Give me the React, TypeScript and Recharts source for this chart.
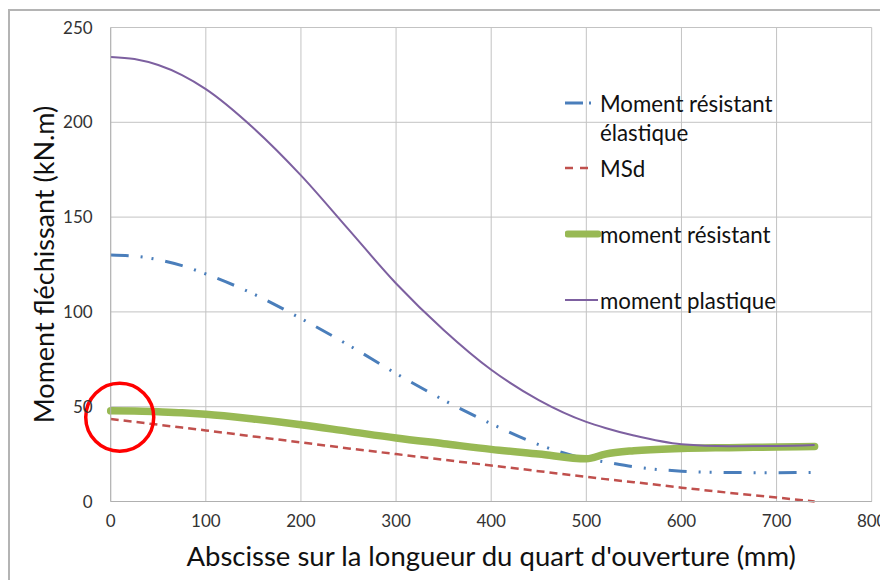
import React from 'react';
import { LineChart, Line, XAxis, YAxis, CartesianGrid, ReferenceDot, Legend, Label } from 'recharts';

const xs = [0, 25, 50, 75, 100, 150, 200, 250, 300, 350, 400, 450, 500, 520, 550, 600, 650, 700, 740];
const elastique = [130, 129.4, 127.5, 124.4, 120, 109.5, 96.5, 82.5, 67.5, 53.5, 41, 30, 22.5, 20.8, 18.3, 16, 15.3, 15.2, 15.3];
const msd = [43.5, 42, 40.5, 39, 37.5, 34.3, 31.2, 28, 25, 22, 19, 16, 13, 11.8, 10.2, 7.3, 4.6, 2.1, 0];
const resistant = [47.8, 47.7, 47.3, 46.8, 46, 43.5, 40.5, 37, 33.5, 30.5, 27.5, 25, 22.5, 25, 26.8, 28, 28.4, 28.7, 29];
const plastique = [234.5, 233.4, 230.2, 224.9, 217.5, 197, 172, 143.5, 115, 90.5, 69.5, 53.5, 42, 38.8, 34.8, 30.2, 29.2, 29.3, 29.8];

const xTicks = [0, 100, 200, 300, 400, 500, 600, 700, 800];
const yTicks = [0, 50, 100, 150, 200, 250];

const seriesNames = ['Moment résistant élastique', 'MSd', 'moment résistant', 'moment plastique'];
const xTitle = "Abscisse sur la longueur du quart d'ouverture (mm)";
const yTitle = 'Moment fléchissant (kN.m)';
const circleCenter = { x: 9.5, y: 44.4 };

const data = xs.map((x, i) => ({
  x,
  elastique: elastique[i],
  msd: msd[i],
  resistant: resistant[i],
  plastique: plastique[i],
}));

const FONT = 'Lato, "Open Sans", sans-serif';
const C_BLUE = '#4a7ebb';
const C_RED = '#c0504d';
const C_GREEN = '#98b954';
const C_PURPLE = '#7d60a0';
const BLUE_DASH = '18 12 2 9 2 12';
const RED_DASH = '8 5';

const legendStyles = [
  { color: C_BLUE, dash: '18 6 2 10', width: 3, top: 95, len: 26 },
  { color: C_RED, dash: '8 7', width: 2.5, top: 160, len: 24 },
  { color: C_GREEN, dash: undefined, width: 7, top: 226, len: 33 },
  { color: C_PURPLE, dash: undefined, width: 2, top: 292, len: 33 },
];
const legendLeft = 557;

const CustomLegend = () => (
  <div style={{ position: 'relative', width: 880, height: 572, pointerEvents: 'none' }}>
    {seriesNames.map((name, i) => {
      const s = legendStyles[i];
      const lines = i === 0 ? ['Moment résistant', 'élastique'] : [name];
      return (
        <div key={name} style={{ position: 'absolute', left: legendLeft, top: s.top - 14 }}>
          <svg width={40} height={28} style={{ position: 'absolute', left: 0, top: 0 }}>
            <line x1={i === 2 ? 3 : 0} x2={s.len} y1={14} y2={14} stroke={s.color} strokeWidth={s.width}
              strokeDasharray={s.dash} strokeLinecap={i === 2 ? 'round' : 'butt'} />
          </svg>
          <div style={{ position: 'absolute', left: 35, top: 0, fontFamily: FONT, fontSize: 22.3, color: '#111', lineHeight: '29px', whiteSpace: 'nowrap' }}>
            {lines.map((l) => <div key={l}>{l}</div>)}
          </div>
        </div>
      );
    })}
  </div>
);

export default function App() {
  return (
    <div style={{ position: 'relative', width: 880, height: 572 }}>
      <div style={{ position: 'absolute', left: 0, top: 1, width: 880, height: 571, borderTop: '2px solid #b4b4b4', borderLeft: '2px solid #b4b4b4', boxSizing: 'border-box' }} />
      <div style={{ position: 'absolute', left: 0, top: 0 }}>
        <LineChart width={880} height={572} data={data} margin={{ top: 19.5, right: 16.3, bottom: 0, left: 0 }}>
          <CartesianGrid stroke="#c3c3c3" strokeWidth={1} />
          <XAxis dataKey="x" type="number" domain={[0, 800]} ticks={xTicks} height={78.5}
            axisLine={{ stroke: '#b0b0b0' }} tickLine={false} tickSize={0} tickMargin={13}
            tick={{ fontFamily: FONT, fontSize: 17, fill: '#333' }} interval={0}>
            <Label content={(p: any) => {
              const vb = p.viewBox;
              return <text x={vb.x + vb.width / 2} y={555 - 8} textAnchor="middle" dominantBaseline="central"
                style={{ fontFamily: FONT, fontSize: 27.5, fill: '#111' }}>{xTitle}</text>;
            }} />
          </XAxis>
          <YAxis type="number" domain={[0, 250]} ticks={yTicks} width={102.7}
            axisLine={{ stroke: '#b0b0b0' }} tickLine={false} tickSize={0} tickMargin={18}
            tick={{ fontFamily: FONT, fontSize: 17, fill: '#333' }} interval={0}>
            <Label content={(p: any) => {
              const vb = p.viewBox;
              const cy = vb.y + vb.height / 2;
              return <text x={35} y={cy} transform={`rotate(-90 35 ${cy})`} textAnchor="middle" dominantBaseline="central"
                style={{ fontFamily: FONT, fontSize: 27, fill: '#111' }}>{yTitle}</text>;
            }} />
          </YAxis>
          <Legend layout="horizontal" verticalAlign="middle" align="center" content={<CustomLegend />}
            wrapperStyle={{ position: 'absolute', left: 0, top: 0, width: 880, height: 572, pointerEvents: 'none' }} />
          <Line dataKey="elastique" name={seriesNames[0]} type="monotone" stroke={C_BLUE} strokeWidth={3}
            strokeDasharray={BLUE_DASH} dot={false} activeDot={false} isAnimationActive={false} />
          <Line dataKey="msd" name={seriesNames[1]} type="linear" stroke={C_RED} strokeWidth={2.5}
            strokeDasharray={RED_DASH} dot={false} activeDot={false} isAnimationActive={false} />
          <Line dataKey="resistant" name={seriesNames[2]} type="monotone" stroke={C_GREEN} strokeWidth={7.5}
            strokeLinecap="round" strokeLinejoin="round" dot={false} activeDot={false} isAnimationActive={false} />
          <Line dataKey="plastique" name={seriesNames[3]} type="monotone" stroke={C_PURPLE} strokeWidth={2}
            dot={false} activeDot={false} isAnimationActive={false} />
          <ReferenceDot x={circleCenter.x} y={circleCenter.y} r={34} fill="none" stroke="#ff0000" strokeWidth={3.5}
            ifOverflow="visible" />
        </LineChart>
      </div>
    </div>
  );
}
